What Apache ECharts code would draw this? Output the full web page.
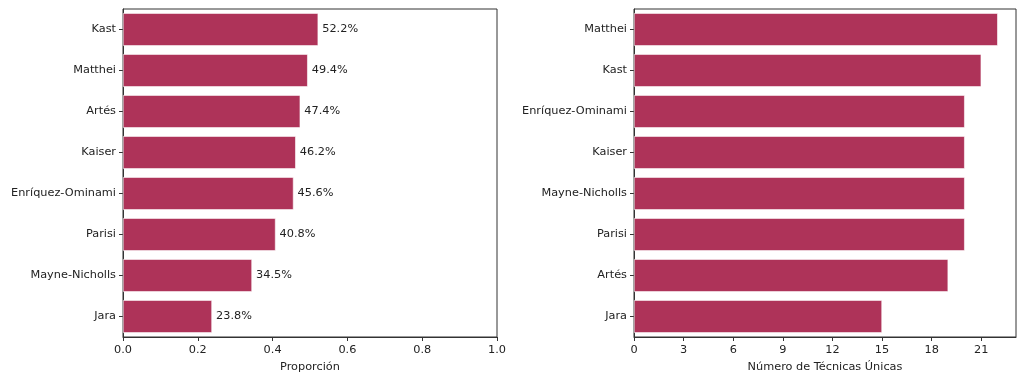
<!DOCTYPE html>
<html><head><meta charset="utf-8">
<script src="https://cdn.jsdelivr.net/npm/echarts@6/dist/echarts.min.js"></script>
<style>html,body{margin:0;padding:0;background:#fff}#c{width:1024px;height:383px}</style>
</head><body><div id="c"></div>
<script>
const leftCategories = ['Kast','Matthei','Artés','Kaiser','Enríquez-Ominami','Parisi','Mayne-Nicholls','Jara'];
const leftValues = [0.522,0.494,0.474,0.462,0.456,0.408,0.345,0.238];
const rightCategories = ['Matthei','Kast','Enríquez-Ominami','Kaiser','Mayne-Nicholls','Parisi','Artés','Jara'];
const rightValues = [22,21,20,20,20,20,19,15];
const rightTicks = [0,3,6,9,12,15,18,21];
const leftTitle = 'Proporción';
const rightTitle = 'Número de Técnicas Únicas';

const font = 'DejaVu Sans';
const barColor = '#ae3359';
const axisCol = '#333';
const fs = 11.3;

function xAx(idx, min, max, interval, name, fmt, ticks){
  const a = {type:'value', gridIndex:idx, min:min, max:max, interval:interval,
    name:name, nameLocation:'middle', nameGap:25,
    nameTextStyle:{fontFamily:font, fontSize:fs, color:'#222'},
    axisLine:{show:true, onZero:false, lineStyle:{color:axisCol, width:1}},
    axisTick:{show:true, length:4, lineStyle:{color:axisCol}},
    axisLabel:{fontFamily:font, fontSize:fs, color:'#222', margin:8, formatter:fmt, showMaxLabel:true, showMinLabel:true},
    splitLine:{show:false}};
  if (ticks){ a.axisTick.customValues = ticks; a.axisLabel.customValues = ticks; }
  return a;
}
function yAx(idx, cats){
  return {type:'category', gridIndex:idx, data:cats, inverse:true,
    axisLine:{show:true, lineStyle:{color:axisCol, width:1}},
    axisTick:{show:true, alignWithLabel:true, length:4, lineStyle:{color:axisCol}},
    axisLabel:{fontFamily:font, fontSize:fs, color:'#222', margin:7}};
}

const chart = echarts.init(document.getElementById('c'), null, {renderer:'canvas'});
chart.setOption({
  animation:false,
  grid:[
    {left:123, right:527, top:9, bottom:46, show:true, borderColor:axisCol, borderWidth:1},
    {left:634, right:8, top:9, bottom:46, show:true, borderColor:axisCol, borderWidth:1}
  ],
  xAxis:[
    xAx(0, 0, 1, 0.2, leftTitle, v => v.toFixed(1)),
    xAx(1, 0, 23.1, 3, rightTitle, v => String(Math.round(v)), rightTicks)
  ],
  yAxis:[yAx(0, leftCategories), yAx(1, rightCategories)],
  series:[
    {type:'bar', xAxisIndex:0, yAxisIndex:0, data:leftValues, barCategoryGap:'20%',
     itemStyle:{color:barColor, borderColor:'#fff', borderWidth:0.6},
     label:{show:true, position:'right', distance:4, fontFamily:font, fontSize:fs, color:'#222',
       formatter:p => (p.value*100).toFixed(1)+'%'}},
    {type:'bar', xAxisIndex:1, yAxisIndex:1, data:rightValues, barCategoryGap:'20%',
     itemStyle:{color:barColor, borderColor:'#fff', borderWidth:0.6}}
  ]
});
</script></body></html>
